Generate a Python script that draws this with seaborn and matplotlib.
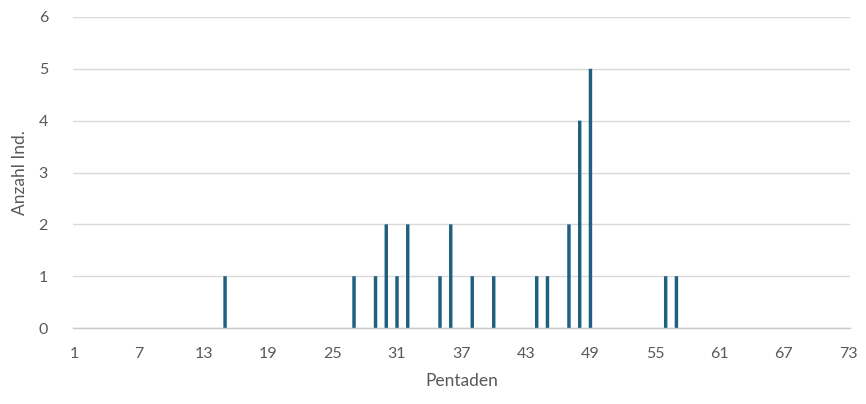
import numpy as np
import pandas as pd
import matplotlib
matplotlib.use("Agg")
import matplotlib.pyplot as plt
import seaborn as sns

# Pentads of the year (1..73) and number of individuals recorded per pentad
pentads = list(range(1, 74))
observed_pentads = [15, 27, 29, 30, 31, 32, 35, 36, 38, 40, 44, 45, 47, 48, 49, 56, 57]
observed_counts = [1, 1, 1, 2, 1, 2, 1, 2, 1, 1, 1, 1, 2, 4, 5, 1, 1]
x_tick_labels = ["1", "7", "13", "19", "25", "31", "37", "43", "49", "55", "61", "67", "73"]
y_ticks = [0, 1, 2, 3, 4, 5, 6]

counts = dict(zip(observed_pentads, observed_counts))
df = pd.DataFrame({
    "Pentade": [str(p) for p in pentads],
    "Anzahl": [counts.get(p, 0) for p in pentads],
})

sns.set_style("white")
plt.rcParams["font.family"] = ["Lato", "DejaVu Sans"]

fig = plt.figure(figsize=(8.66, 4.04), dpi=100)
ax = fig.add_axes([0.0843, 0.188, 0.8972, 0.770])

bar_color = "#1f5f80"
sns.barplot(data=df, x="Pentade", y="Anzahl", order=df["Pentade"].tolist(),
            color=bar_color, width=0.32, saturation=1, ax=ax, errorbar=None,
            linewidth=0)
# keep every bar the same rendered width
for patch in ax.patches:
    patch.set_snap(False)

ax.set_ylim(0, 6)
ax.set_xlim(-0.15, 72.15)
ax.set_yticks(y_ticks)
ax.set_yticklabels([str(v) for v in y_ticks])
major_pos = [pentads.index(int(t)) for t in x_tick_labels]
ax.set_xticks(major_pos)
ax.set_xticklabels(x_tick_labels)
ax.set_xticks(list(range(0, 73, 3)), minor=True)

ax.yaxis.grid(True, color="#d9d9d9", linewidth=1)
ax.set_axisbelow(True)
for side in ["top", "right", "left"]:
    ax.spines[side].set_visible(False)
ax.spines["bottom"].set_color("#c8c8c8")
ax.spines["bottom"].set_linewidth(1)

ax.tick_params(axis="x", which="both", length=4, color="#c8c8c8", width=1,
               labelsize=11.5, labelcolor="#595959", pad=10)
ax.tick_params(axis="y", length=0, labelsize=11.5, labelcolor="#595959", pad=18)

ax.set_xlabel("Pentaden", fontsize=12.5, color="#595959", labelpad=8)
ax.set_ylabel("Anzahl Ind.", fontsize=12.5, color="#595959", labelpad=8)

fig.savefig("out.png", dpi=100)
